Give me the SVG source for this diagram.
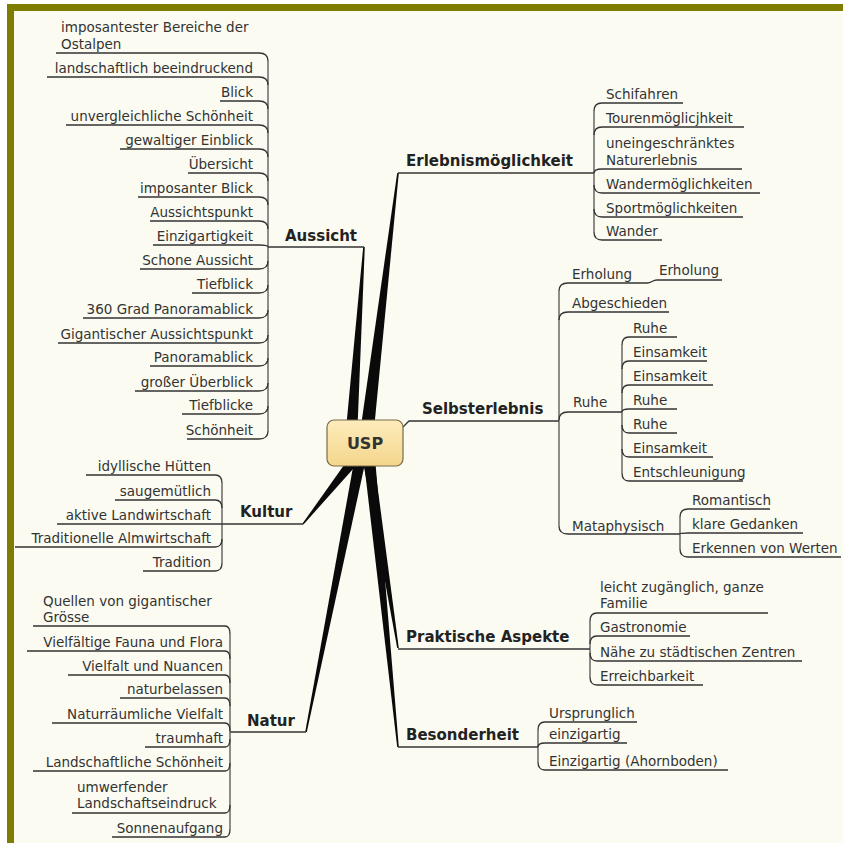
<svg xmlns="http://www.w3.org/2000/svg" width="843" height="843" viewBox="0 0 843 843">
<defs>
<linearGradient id="usp" x1="0" y1="0" x2="0" y2="1">
<stop offset="0" stop-color="#fdecbc"/>
<stop offset="1" stop-color="#f4d68c"/>
</linearGradient>
</defs>
<style>
.t{font-family:"DejaVu Sans",Verdana,sans-serif;font-size:13.5px;fill:#333}
.e{text-anchor:end}
.m{font-family:"DejaVu Sans",Verdana,sans-serif;font-size:15px;font-weight:bold;fill:#222}
.l{fill:none;stroke:#333;stroke-width:1.3}
.b{fill:none;stroke:#444;stroke-width:1.2}
.w{fill:#0a0a0a;stroke:none}
</style>
<rect x="0" y="0" width="843" height="843" fill="#ffffff"/>
<rect x="7" y="4" width="836" height="839" fill="#fbfbf1"/>
<rect x="7" y="4" width="836" height="7" fill="#7f7d00"/>
<rect x="7" y="4" width="7" height="839" fill="#7f7d00"/>

<g id="connectors">
<polygon class="w" points="345,440 357,440 364.8,247 363.2,247"/>
<polygon class="w" points="359,440 373,440 398.8,173 397.2,173"/>
<polygon class="w" points="366.7,453.7 357.3,446.3 302.5,523.6 303.5,524.4"/>
<polygon class="w" points="357,445 369,445 306.8,732 305.2,732"/>
<polygon class="w" points="360,445 372,445 398.8,648 397.2,648"/>
<polygon class="w" points="362,445 374,445 398.8,747 397.2,747"/>
<path class="l" d="M268 247 H364"/>
<path class="l" d="M398 173 H594"/>
<path class="l" d="M403 427 L409 421 H559"/>
<path class="l" d="M222 524 H303"/>
<path class="l" d="M230 732 H306"/>
<path class="l" d="M398 649 H590"/>
<path class="l" d="M398 747 H538"/>
</g>

<g id="usp-node">
<rect x="327" y="420" width="76" height="46" rx="7" fill="url(#usp)" stroke="#7a6a48" stroke-width="1.2"/>
<text x="365" y="449" text-anchor="middle" style="font-family:'DejaVu Sans',Verdana,sans-serif;font-size:16px;font-weight:bold;fill:#333">USP</text>
</g>

<g id="aussicht">
<text class="m" x="285" y="241">Aussicht</text>
<path class="b" d="M268 61 V431"/>
<path class="l" d="M56 53 H259 Q268 53 268 61"/>
<path class="l" d="M47 77 H259 Q268 77 268 85"/>
<path class="l" d="M220 101 H259 Q268 101 268 109"/>
<path class="l" d="M66 125 H259 Q268 125 268 133"/>
<path class="l" d="M120 149 H259 Q268 149 268 157"/>
<path class="l" d="M188 173 H259 Q268 173 268 181"/>
<path class="l" d="M138 197 H259 Q268 197 268 205"/>
<path class="l" d="M150 221 H259 Q268 221 268 229"/>
<path class="l" d="M153 245 H259 Q268 245 268 247"/>
<path class="l" d="M140 269 H259 Q268 269 268 261"/>
<path class="l" d="M192 293 H259 Q268 293 268 285"/>
<path class="l" d="M83 318 H259 Q268 318 268 310"/>
<path class="l" d="M58 343 H259 Q268 343 268 335"/>
<path class="l" d="M150 366 H259 Q268 366 268 358"/>
<path class="l" d="M135 391 H259 Q268 391 268 383"/>
<path class="l" d="M182 414 H259 Q268 414 268 406"/>
<path class="l" d="M187 439 H259 Q268 439 268 431"/>
<text class="t" x="61" y="32">imposantester Bereiche der</text>
<text class="t" x="61" y="49">Ostalpen</text>
<text class="t e" x="253" y="73">landschaftlich beeindruckend</text>
<text class="t e" x="253" y="97">Blick</text>
<text class="t e" x="253" y="121">unvergleichliche Schönheit</text>
<text class="t e" x="253" y="145">gewaltiger Einblick</text>
<text class="t e" x="253" y="169">Übersicht</text>
<text class="t e" x="253" y="193">imposanter Blick</text>
<text class="t e" x="253" y="217">Aussichtspunkt</text>
<text class="t e" x="253" y="241">Einzigartigkeit</text>
<text class="t e" x="253" y="265">Schone Aussicht</text>
<text class="t e" x="253" y="289">Tiefblick</text>
<text class="t e" x="253" y="314">360 Grad Panoramablick</text>
<text class="t e" x="253" y="339">Gigantischer Aussichtspunkt</text>
<text class="t e" x="253" y="362">Panoramablick</text>
<text class="t e" x="253" y="387">großer Überblick</text>
<text class="t e" x="253" y="410">Tiefblicke</text>
<text class="t e" x="253" y="435">Schönheit</text>
</g>

<g id="kultur">
<text class="m" x="240" y="517">Kultur</text>
<path class="b" d="M222 483 V563"/>
<path class="l" d="M86 475 H215 Q222 475 222 483"/>
<path class="l" d="M115 500 H215 Q222 500 222 508"/>
<path class="l" d="M57 524 H222"/>
<path class="l" d="M15 547 H215 Q222 547 222 539"/>
<path class="l" d="M143 571 H215 Q222 571 222 563"/>
<text class="t e" x="211" y="471">idyllische Hütten</text>
<text class="t e" x="211" y="496">saugemütlich</text>
<text class="t e" x="211" y="520">aktive Landwirtschaft</text>
<text class="t e" x="211" y="543">Traditionelle Almwirtschaft</text>
<text class="t e" x="211" y="567">Tradition</text>
</g>

<g id="natur">
<text class="m" x="247" y="726">Natur</text>
<path class="b" d="M230 634 V829"/>
<path class="l" d="M33 626 H225 Q230 626 230 634"/>
<path class="l" d="M27 651 H225 Q230 651 230 659"/>
<path class="l" d="M68 675 H225 Q230 675 230 683"/>
<path class="l" d="M120 698 H225 Q230 698 230 706"/>
<path class="l" d="M52 723 H225 Q230 723 230 731"/>
<path class="l" d="M145 747 H225 Q230 747 230 739"/>
<path class="l" d="M33 771 H225 Q230 771 230 763"/>
<path class="l" d="M72 813 H225 Q230 813 230 805"/>
<path class="l" d="M112 837 H225 Q230 837 230 829"/>
<text class="t" x="43" y="606">Quellen von gigantischer</text>
<text class="t" x="43" y="622">Grösse</text>
<text class="t e" x="223" y="647">Vielfältige Fauna und Flora</text>
<text class="t e" x="223" y="671">Vielfalt und Nuancen</text>
<text class="t e" x="223" y="694">naturbelassen</text>
<text class="t e" x="223" y="719">Naturräumliche Vielfalt</text>
<text class="t e" x="223" y="743">traumhaft</text>
<text class="t e" x="223" y="767">Landschaftliche Schönheit</text>
<text class="t" x="77" y="792">umwerfender</text>
<text class="t" x="77" y="808">Landschaftseindruck</text>
<text class="t e" x="223" y="833">Sonnenaufgang</text>
</g>

<g id="erlebnis">
<text class="m" x="406" y="166">Erlebnismöglichkeit</text>
<path class="b" d="M594 111 V232"/>
<path class="l" d="M594 111 Q594 103 602 103 H683"/>
<path class="l" d="M594 135 Q594 127 602 127 H744"/>
<path class="l" d="M594 173 Q594 169 602 169 H742"/>
<path class="l" d="M594 185 Q594 193 602 193 H760"/>
<path class="l" d="M594 209 Q594 217 602 217 H743"/>
<path class="l" d="M594 232 Q594 240 602 240 H662"/>
<text class="t" x="606" y="99">Schifahren</text>
<text class="t" x="606" y="123">Tourenmöglicjhkeit</text>
<text class="t" x="606" y="148">uneingeschränktes</text>
<text class="t" x="606" y="165">Naturerlebnis</text>
<text class="t" x="606" y="189">Wandermöglichkeiten</text>
<text class="t" x="606" y="213">Sportmöglichkeiten</text>
<text class="t" x="606" y="236">Wander</text>
</g>

<g id="selbsterlebnis">
<text class="m" x="422" y="414">Selbsterlebnis</text>
<path class="b" d="M559 291 V526"/>
<path class="l" d="M559 291 Q559 283 568 283 H647 C652 283 652 280 657 280 H722"/>
<path class="l" d="M559 320 Q559 312 568 312 H669"/>
<path class="l" d="M559 420 Q559 412 568 412 H622"/>
<path class="l" d="M559 526 Q559 534 568 534 H680"/>
<text class="t" x="572" y="279">Erholung</text>
<text class="t" x="659" y="275">Erholung</text>
<text class="t" x="572" y="308">Abgeschieden</text>
<text class="t" x="573" y="407">Ruhe</text>
<text class="t" x="572" y="531">Mataphysisch</text>
</g>

<g id="ruhe">
<path class="b" d="M622 345 V473"/>
<path class="l" d="M622 345 Q622 337 629 337 H677"/>
<path class="l" d="M622 369 Q622 361 629 361 H707"/>
<path class="l" d="M622 393 Q622 385 629 385 H713"/>
<path class="l" d="M622 412 Q622 409 629 409 H677"/>
<path class="l" d="M622 425 Q622 433 629 433 H677"/>
<path class="l" d="M622 449 Q622 457 629 457 H713"/>
<path class="l" d="M622 473 Q622 481 629 481 H743"/>
<text class="t" x="633" y="333">Ruhe</text>
<text class="t" x="633" y="357">Einsamkeit</text>
<text class="t" x="633" y="381">Einsamkeit</text>
<text class="t" x="633" y="405">Ruhe</text>
<text class="t" x="633" y="429">Ruhe</text>
<text class="t" x="633" y="453">Einsamkeit</text>
<text class="t" x="633" y="477">Entschleunigung</text>
</g>

<g id="mataphysisch">
<path class="b" d="M680 517 V549"/>
<path class="l" d="M680 517 Q680 509 688 509 H770"/>
<path class="l" d="M680 534 Q680 533 688 533 H803"/>
<path class="l" d="M680 549 Q680 557 688 557 H841"/>
<text class="t" x="692" y="505">Romantisch</text>
<text class="t" x="692" y="529">klare Gedanken</text>
<text class="t" x="692" y="553">Erkennen von Werten</text>
</g>

<g id="praktisch">
<text class="m" x="406" y="642">Praktische Aspekte</text>
<path class="b" d="M590 621 V677"/>
<path class="l" d="M590 621 Q590 613 597 613 H768"/>
<path class="l" d="M590 644 Q590 636 597 636 H690"/>
<path class="l" d="M590 653 Q590 661 597 661 H802"/>
<path class="l" d="M590 677 Q590 685 597 685 H703"/>
<text class="t" x="600" y="592">leicht zugänglich, ganze</text>
<text class="t" x="600" y="608">Familie</text>
<text class="t" x="600" y="632">Gastronomie</text>
<text class="t" x="600" y="657">Nähe zu städtischen Zentren</text>
<text class="t" x="600" y="681">Erreichbarkeit</text>
</g>

<g id="besonderheit">
<text class="m" x="406" y="740">Besonderheit</text>
<path class="b" d="M538 730 V762"/>
<path class="l" d="M538 730 Q538 722 545 722 H637"/>
<path class="l" d="M538 747 Q538 743 545 743 H627"/>
<path class="l" d="M538 762 Q538 770 545 770 H728"/>
<text class="t" x="549" y="718">Ursprunglich</text>
<text class="t" x="549" y="739">einzigartig</text>
<text class="t" x="549" y="766">Einzigartig (Ahornboden)</text>
</g>
</svg>
